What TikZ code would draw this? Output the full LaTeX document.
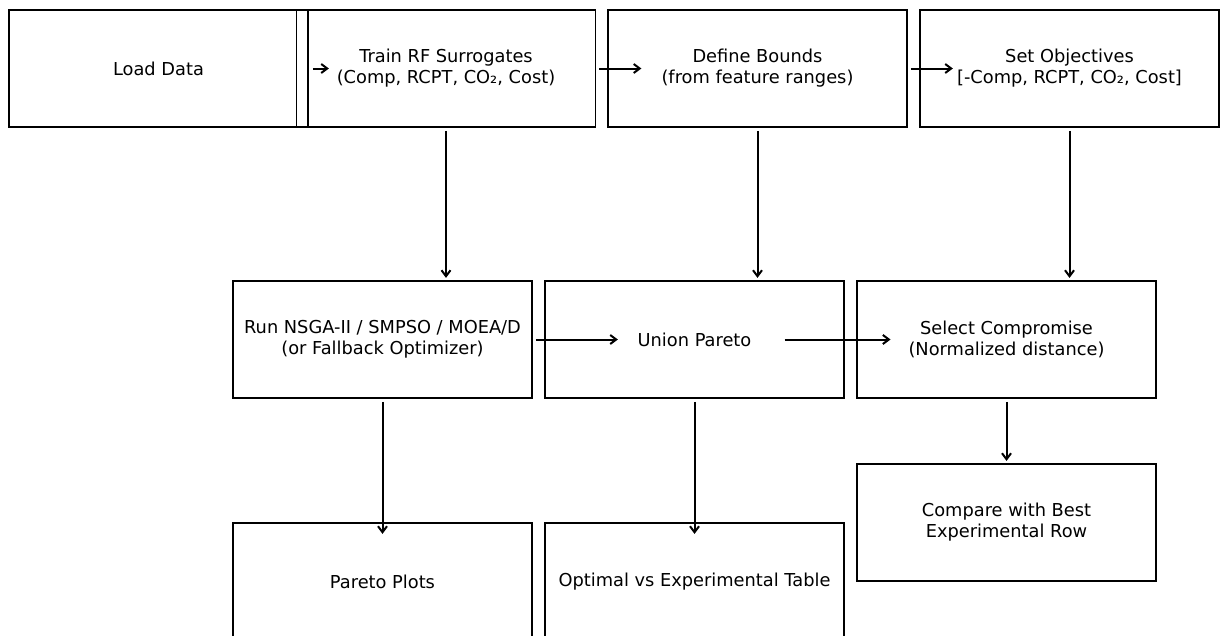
\documentclass[tikz,border=0pt]{standalone}
\usepackage{fontspec}
\setmainfont{DejaVu Sans}
\usetikzlibrary{arrows.meta}
\tikzset{
  box/.style={draw, line width=1.8pt, rectangle, minimum width=299pt, minimum height=117pt, inner sep=0pt, align=center, font=\fontsize{17.8}{21}\selectfont},
  arr/.style={line width=2pt, -{Straight Barb[length=6pt,width=9pt,line width=2pt]}}
}
\begin{document}
\begin{tikzpicture}[x=1pt,y=-1pt]
\useasboundingbox (0,0) rectangle (1224,635);
\clip (0,0) rectangle (1224,635);
\node[box] (load) at (158.5,68.5) {Load Data};
\node[box] (train) at (446,68.5) {Train RF Surrogates\\(Comp, RCPT, CO₂, Cost)};
\node[box] (bounds) at (757.5,68.5) {Define Bounds\\(from feature ranges)};
\node[box] (obj) at (1069.5,68.5) {Set Objectives\\{[}-Comp, RCPT, CO₂, Cost{]}};
\node[box] (run) at (382.5,339.5) {Run NSGA-II / SMPSO / MOEA/D\\(or Fallback Optimizer)};
\node[box] (union) at (694.5,339.5) {Union Pareto};
\node[box] (sel) at (1006.5,339.5) {Select Compromise\\(Normalized distance)};
\node[box] (cmp) at (1006.5,522.5) {Compare with Best\\Experimental Row};
\node[box] (plots) at (382.5,581.5) {Pareto Plots};
\node[box] (table) at (694.5,581.5) {Optimal vs Experimental Table};
\draw[arr] ([xshift=4pt]load.east) -- ++(16,0);
\draw[arr] ([xshift=3pt]train.east) -- ++(42,0);
\draw[arr] ([xshift=3pt]bounds.east) -- ++(42,0);
\draw[arr] ([yshift=-3pt]train.south) -- ++(0,147);
\draw[arr] ([yshift=-3pt]bounds.south) -- ++(0,147);
\draw[arr] ([yshift=-3pt]obj.south) -- ++(0,147);
\draw[arr] ([xshift=3pt]run.east) -- ++(82,0);
\draw[arr] ([xshift=90pt]union.center) -- ++(106,0);
\draw[arr] ([yshift=-3pt]run.south) -- ++(0,132);
\draw[arr] ([yshift=-3pt]union.south) -- ++(0,132);
\draw[arr] ([yshift=-3pt]sel.south) -- ++(0,59);
\end{tikzpicture}
\end{document}
